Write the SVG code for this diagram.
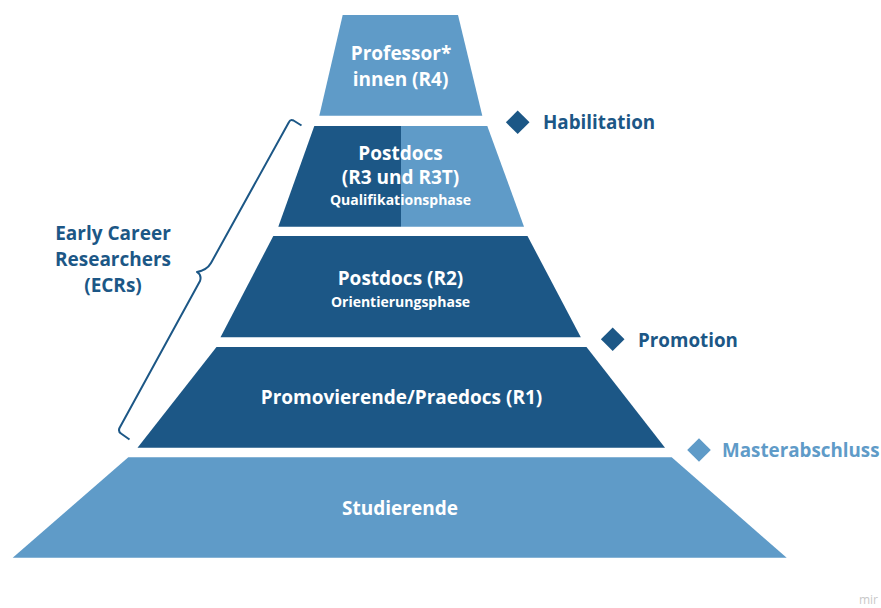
<svg xmlns="http://www.w3.org/2000/svg" width="881" height="608" viewBox="0 0 881 608">
<style>
.dark{fill:#1c5786}
.light{fill:#5f9bc8}
.t{font-family:"Open Sans","Liberation Sans",sans-serif;font-weight:700;fill:#ffffff;text-anchor:middle}
.big{font-size:19px}
.small{font-size:14px}
.lbl{font-family:"Open Sans","Liberation Sans",sans-serif;font-weight:700;font-size:18.8px}
.ecr{font-family:"Open Sans","Liberation Sans",sans-serif;font-weight:700;font-size:19px}
.dtext{fill:#1c5786}
.ltext{fill:#5f9bc8}
</style>
<rect width="881" height="608" fill="#ffffff"/>
<defs>
<clipPath id="r3clip"><polygon points="314.3,126 487.3,126 524,226.7 278.3,226.7"/></clipPath>
</defs>
<g id="r4">
<polygon class="light" points="342.7,15 458,15 482.3,115.7 319.3,115.7"/>
<text class="t big" x="401" y="59.5">Professor*</text>
<text class="t big" x="400.5" y="85.5">innen (R4)</text>
</g>
<g id="r3">
<g clip-path="url(#r3clip)">
<rect class="dark" x="270" y="120" width="131" height="110"/>
<rect class="light" x="401" y="120" width="130" height="110"/>
</g>
<text class="t big" x="400.5" y="159.5">Postdocs</text>
<text class="t big" x="400.5" y="183.5">(R3 und R3T)</text>
<text class="t small" x="400.5" y="204.5">Qualifikationsphase</text>
</g>
<g id="r2">
<polygon class="dark" points="273.3,236 527.5,236 580.8,337.3 220.5,337.3"/>
<text class="t big" x="400.5" y="284.5">Postdocs (R2)</text>
<text class="t small" x="400.5" y="306.5">Orientierungsphase</text>
</g>
<g id="r1">
<polygon class="dark" points="216.5,347 586.5,347 665,447.7 137.5,447.7"/>
<text class="t big" x="401.5" y="404">Promovierende/Praedocs (R1)</text>
</g>
<g id="studierende">
<polygon class="light" points="128.3,457.3 671.7,457.3 786.7,557.7 12.7,557.7"/>
<text class="t big" x="400" y="515">Studierende</text>
</g>
<g id="ecr">
<text class="ecr dtext" text-anchor="middle" x="113" y="240">Early Career</text>
<text class="ecr dtext" text-anchor="middle" x="113" y="266">Researchers</text>
<text class="ecr dtext" text-anchor="middle" x="113" y="292">(ECRs)</text>
</g>
<g id="connectors">
<path d="M301.5,125.5 L293.5,120.5 Q290.5,119 289,122 L211,263 Q207,270 197,272 Q202,275 200,281 L119.5,428 Q118,431.5 121,433.5 L129.5,439.5" fill="none" stroke="#1c5786" stroke-width="2" stroke-linejoin="round"/>
</g>
<g id="habilitation">
<polygon class="dark" points="517.7,110.5 529.5,122.3 517.7,134.1 505.9,122.3"/>
<text class="lbl dtext" x="543" y="129.3">Habilitation</text>
</g>
<g id="promotion">
<polygon class="dark" points="612.7,327.5 624.5,339.3 612.7,351.1 600.9,339.3"/>
<text class="lbl dtext" x="638" y="346.5">Promotion</text>
</g>
<g id="masterabschluss">
<polygon class="light" points="699,438.2 710.8,450 699,461.8 687.2,450"/>
<text class="lbl ltext" x="722" y="456.7">Masterabschluss</text>
</g>
<text x="878" y="604" text-anchor="end" font-family="'Open Sans','Liberation Sans',sans-serif" font-size="12" fill="#c8c8c8">mir</text>
</svg>
